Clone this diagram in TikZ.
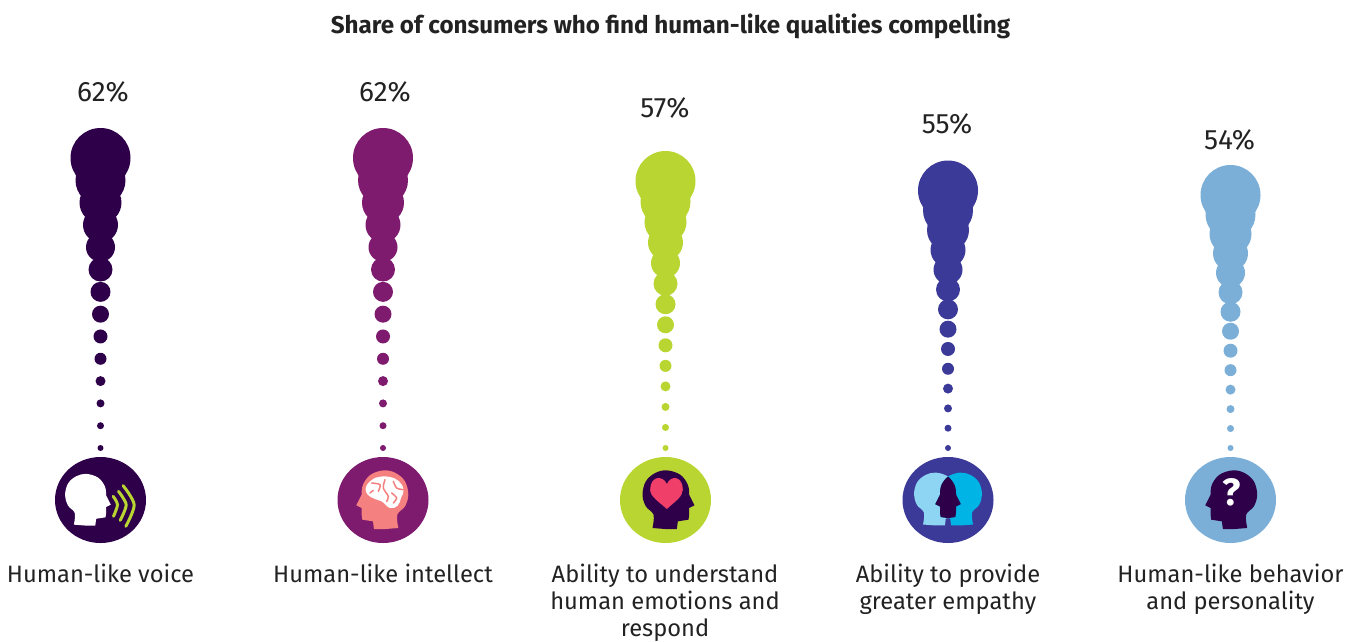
\documentclass[tikz,border=0pt]{standalone}
\usepackage{fontspec}
\setmainfont{Fira Sans}
\definecolor{cA}{HTML}{2D0049}
\definecolor{cB}{HTML}{7E1B6E}
\definecolor{cC}{HTML}{B9D531}
\definecolor{cD}{HTML}{3C3A98}
\definecolor{cE}{HTML}{7BAFD8}
\definecolor{pinkH}{HTML}{F58080}
\definecolor{heart}{HTML}{F0406A}
\definecolor{skyL}{HTML}{8DD5F2}
\definecolor{skyR}{HTML}{00B5E6}
\definecolor{ink}{HTML}{222222}
% head profile facing right, in 3x pixels about the disc centre
\newcommand\headshape{plot[smooth,tension=.6] coordinates{(-39,84) (-36,44) (-59,19) (-69,-16) (-59,-56) (-31,-81) (4,-89) (44,-76) (67,-46) (71,-16)} -- (87,16) -- (71,24) -- (71,44) -- (69,59) -- (37,64) -- (34,87) -- (-1,87) -- cycle}
\newcommand\dotcolumn[3]{% x, top y, colour
  \foreach \r [count=\i from 0] in {30,25,21,17.5,14.5,12,10,8.5,7,6,5,4,3.5,3}{
    \fill[#3] ({#1},{#2+\i*(448-#2)/13}) circle[radius=\r];}}
\tikzset{
  pct/.style={font=\fontsize{28}{30}\selectfont,text=ink,anchor=center},
  lab/.style={font=\fontsize{23.7}{26.8}\selectfont,text=ink,align=center,anchor=north},
  disc/.style={x radius=45.5,y radius=43},
  icon/.style={x=.3333pt,y=-.3333pt},
  wave/.style={cC,line width=3pt,line cap=round},
  lefthead/.style={xshift=-13.3pt,yshift=.7pt,scale=.9},
  righthead/.style={xshift=13.3pt,yshift=.7pt,xscale=-.9,yscale=.9},
}
\begin{document}
\begin{tikzpicture}[x=1pt,y=-1pt]
\useasboundingbox (0,0) rectangle (1359,641);
\node[font=\fontsize{24.2}{28}\selectfont\bfseries,text=ink] (title) at (670.5,26) {Share of consumers who find human-like qualities compelling};

\dotcolumn{100.5}{158}{cA}
\dotcolumn{383}{158}{cB}
\dotcolumn{665.5}{181}{cC}
\dotcolumn{948}{190.5}{cD}
\dotcolumn{1230.5}{195}{cE}

\node[pct] (p1) at (103,92) {62\%};
\node[pct] (p2) at (385,92) {62\%};
\node[pct] (p3) at (665,108) {57\%};
\node[pct] (p4) at (947,124) {55\%};
\node[pct] (p5) at (1229.5,140) {54\%};

% discs
\fill[cA] (100.5,500) ellipse[disc];
\fill[cB] (383,500) ellipse[disc];
\fill[cC] (665.5,500) ellipse[disc];
\fill[cD] (948,500) ellipse[disc];
\fill[cE] (1230.5,500) ellipse[disc];

% icon 1: speaking head
\begin{scope}[shift={(100.5,500)},icon]
  \fill[white,xshift=-15.2pt,scale=.88] \headshape;
  \draw[wave] plot[smooth] coordinates{(38,-11) (51,14) (39,49)};
  \draw[wave] plot[smooth] coordinates{(54,-26) (77,14) (59,61)};
  \draw[wave] plot[smooth] coordinates{(68,-43) (101,14) (76,79)};
\end{scope}

% icon 2: head with brain
\begin{scope}[shift={(383,500)},icon]
  \fill[pinkH,xshift=2.3pt,xscale=-1] \headshape;
  \fill[white] plot[smooth cycle,tension=.7] coordinates{(-52,-36) (-39,-56) (-14,-69) (21,-69) (48,-56) (62,-31) (54,-6) (44,17) (21,24) (-4,4) (-24,-3) (-46,-16)};
  \begin{scope}[pinkH,line width=1.5pt,line cap=round]
    \draw plot[smooth] coordinates{(-34,-51) (-9,-46) (-14,-26)};
    \draw plot[smooth] coordinates{(6,-61) (1,-36) (16,-11) (11,4)};
    \draw plot[smooth] coordinates{(31,-56) (41,-36) (61,-31)};
    \draw plot[smooth] coordinates{(26,-21) (41,-6) (31,9)};
    \draw plot[smooth] coordinates{(-29,-29) (-39,-21)};
  \end{scope}
\end{scope}

% icon 3: head with heart
\begin{scope}[shift={(665.5,500)},icon]
  \fill[cA] \headshape;
  \fill[heart] (4,27) .. controls (-20,5) and (-46,-10) .. (-46,-31) .. controls (-46,-72) and (-8,-76) .. (4,-48) .. controls (16,-76) and (52,-72) .. (52,-31) .. controls (52,-10) and (28,5) .. (4,27) -- cycle;
\end{scope}

% icon 4: two heads facing
\begin{scope}[shift={(948,500)},icon]
  \fill[skyL,lefthead] \headshape;
  \fill[skyR,righthead] \headshape;
  \begin{scope}
    \clip[lefthead] \headshape;
    \fill[cA,righthead] \headshape;
  \end{scope}
\end{scope}

% icon 5: head with question mark
\begin{scope}[shift={(1230.5,500)},icon]
  \fill[cA,xshift=3.7pt,xscale=-1] \headshape;
\end{scope}
\node[font=\fontsize{38}{40}\selectfont\bfseries,text=white] (qmark) at (1232,492) {?};

% labels
\node[lab] (l1) at (100.5,560.5) {Human-like voice};
\node[lab] (l2) at (383,560.5) {Human-like intellect};
\node[lab] (l3) at (665,560.5) {Ability to understand\\human emotions and\\respond};
\node[lab] (l4) at (948,560.5) {Ability to provide\\greater empathy};
\node[lab] (l5) at (1230.5,560.5) {Human-like behavior\\and personality};
\end{tikzpicture}
\end{document}
